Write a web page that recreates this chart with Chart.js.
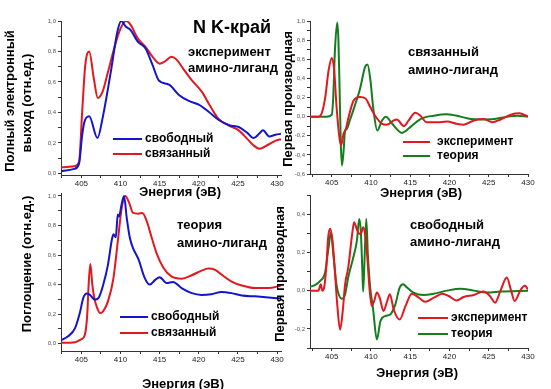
<!DOCTYPE html>
<html>
<head>
<meta charset="utf-8">
<script src="https://cdn.jsdelivr.net/npm/chart.js@4.4.0/dist/chart.umd.min.js"></script>
<style>
  html, body { margin: 0; padding: 0; background: #fff; }
  #wrap { position: relative; width: 551px; height: 389px; overflow: hidden; }
  #wrap canvas { position: absolute; left: 0; top: 0; }
</style>
</head>
<body>
<div id="wrap">
  <canvas id="c1" width="551" height="389"></canvas>
  <canvas id="c2" width="551" height="389"></canvas>
  <canvas id="c3" width="551" height="389"></canvas>
  <canvas id="c4" width="551" height="389"></canvas>
</div>
<script>
// top left: experiment, total electron yield
const tyFreeE = [402.4, 404.1, 404.7, 405.1, 405.4, 406.0, 407.06, 407.7, 408.76, 409.6, 410.1, 410.7, 411.3, 412.2, 413.2, 414.1, 414.9, 416.2, 417.5, 418.8, 420.0, 421.3, 422.6, 423.9, 425.1, 426.2, 427.0, 427.7, 428.2, 429.0, 429.8, 430.5];
const tyFreeI = [0.015, 0.03, 0.063, 0.25, 0.34, 0.375, 0.232, 0.36, 0.666, 0.93, 1.0, 0.962, 0.94, 0.864, 0.82, 0.71, 0.61, 0.583, 0.513, 0.474, 0.451, 0.403, 0.349, 0.316, 0.305, 0.266, 0.232, 0.26, 0.283, 0.243, 0.254, 0.26];
const tyBoundE = [402.4, 404.1, 404.7, 405.1, 405.5, 406.0, 406.6, 407.1, 407.7, 408.4, 409.3, 410.0, 410.7, 411.3, 412.2, 413.2, 414.1, 415.0, 415.7, 416.5, 417.1, 418.0, 419.1, 420.4, 421.4, 422.5, 423.8, 425.1, 426.1, 427.0, 427.8, 428.9, 429.9, 430.5];
const tyBoundI = [0.04, 0.048, 0.074, 0.40, 0.71, 0.80, 0.62, 0.495, 0.535, 0.666, 0.84, 0.95, 1.0, 0.975, 0.886, 0.83, 0.765, 0.72, 0.736, 0.765, 0.75, 0.688, 0.612, 0.535, 0.447, 0.36, 0.316, 0.283, 0.232, 0.184, 0.162, 0.19, 0.217, 0.225];

// top right: first derivative, bound ligand
const d1ExpE = [402.2, 403.3, 403.7, 404.15, 404.6, 405.0, 405.3, 405.6, 406.0, 406.2, 406.5, 406.8, 407.1, 407.8, 408.6, 409.3, 409.9, 410.5, 411.4, 412.0, 412.9, 413.3, 414.2, 414.8, 415.65, 416.3, 417.1, 418.4, 419.7, 420.9, 421.8, 423.1, 424.4, 425.45, 426.5, 427.8, 428.9, 430.0];
const d1ExpI = [0, 0, 0.03, 0.19, 0.485, 0.614, 0.5, 0.118, -0.233, -0.30, -0.18, -0.13, -0.02, 0.17, 0.205, 0.19, 0.10, 0.012, -0.075, -0.085, -0.04, -0.03, -0.1, -0.04, 0.04, 0.01, -0.06, -0.06, -0.052, -0.075, -0.085, -0.04, -0.025, -0.06, -0.03, 0.02, 0.035, 0.0];
const d1ThE = [402.2, 404.3, 405.0, 405.2, 405.4, 405.7, 405.85, 405.97, 406.15, 406.3, 406.5, 406.7, 406.9, 407.3, 407.95, 408.6, 409.25, 409.55, 409.9, 410.3, 410.8, 411.4, 411.9, 412.7, 413.95, 415.0, 416.3, 418.0, 419.7, 421.4, 422.7, 424.0, 425.7, 427.4, 428.7, 430.0];
const d1ThI = [0, 0, 0.02, 0.22, 0.68, 0.985, 0.8, 0.40, -0.27, -0.51, -0.37, -0.145, -0.13, -0.04, 0.118, 0.29, 0.52, 0.545, 0.40, 0.08, -0.145, -0.04, 0.0, -0.075, -0.17, -0.11, -0.025, 0.01, 0.025, 0.0, -0.025, -0.03, -0.025, 0.0, 0.01, 0.0];

// bottom left: theory, absorption
const absFreeE = [402.3, 403.3, 404.2, 404.8, 405.25, 405.7, 406.1, 406.7, 407.2, 407.8, 408.4, 408.9, 409.1, 409.4, 409.65, 409.8, 410.15, 410.45, 410.8, 411.2, 411.6, 412.3, 413.1, 413.75, 414.4, 415.0, 415.9, 416.7, 417.8, 419.1, 420.35, 421.6, 422.9, 424.2, 425.5, 427.2, 428.9, 430.5];
const absFreeI = [0.02, 0.05, 0.105, 0.207, 0.31, 0.34, 0.33, 0.298, 0.31, 0.40, 0.535, 0.705, 0.74, 0.72, 0.875, 0.86, 0.945, 1.0, 0.85, 0.715, 0.647, 0.57, 0.444, 0.40, 0.43, 0.449, 0.41, 0.418, 0.376, 0.342, 0.33, 0.335, 0.35, 0.342, 0.326, 0.32, 0.313, 0.305];
const absBoundE = [402.3, 404.2, 405.0, 405.45, 405.75, 405.95, 406.15, 406.4, 406.65, 406.95, 407.4, 407.8, 408.4, 409.1, 409.7, 410.15, 410.6, 411.1, 411.6, 412.3, 412.8, 413.35, 414.0, 414.6, 415.5, 416.5, 417.8, 419.1, 420.35, 421.2, 422.1, 422.9, 424.2, 425.5, 427.2, 428.9, 430.5];
const absBoundI = [0.005, 0.01, 0.03, 0.06, 0.195, 0.42, 0.54, 0.40, 0.31, 0.252, 0.207, 0.22, 0.286, 0.444, 0.715, 0.918, 1.0, 0.955, 0.885, 0.88, 0.885, 0.83, 0.715, 0.613, 0.512, 0.455, 0.44, 0.463, 0.494, 0.508, 0.50, 0.468, 0.42, 0.393, 0.376, 0.376, 0.393];

// bottom right: first derivative, free ligand
const d2ExpE = [402.2, 403.3, 403.6, 403.8, 404.0, 404.3, 404.55, 404.8, 405.1, 405.4, 405.7, 406.06, 406.4, 406.7, 407.1, 407.6, 407.85, 408.2, 408.5, 408.8, 409.0, 409.25, 409.5, 409.8, 410.1, 410.4, 410.75, 411.1, 411.6, 412.0, 412.4, 412.9, 413.65, 414.4, 415.2, 416.1, 416.9, 418.0, 419.1, 419.9, 420.9, 421.8, 423.1, 424.3, 425.15, 425.8, 426.5, 427.3, 427.8, 428.3, 429.1, 429.6, 430.0];
const d2ExpI = [0, 0, 0.033, 0, 0.01, 0.12, 0.28, 0.323, 0.26, 0.104, -0.072, -0.204, -0.107, 0.033, 0.12, 0.296, 0.357, 0.32, 0.296, 0.305, 0.332, 0.296, 0.19, 0.016, -0.08, -0.055, -0.01, -0.037, -0.107, -0.063, -0.019, -0.1, -0.151, -0.08, -0.016, -0.037, -0.058, -0.037, -0.016, -0.028, -0.051, -0.033, -0.023, -0.005, -0.028, -0.063, 0.0, 0.068, 0.007, -0.054, 0.007, 0.025, 0.007];
const d2ThE = [402.2, 402.9, 403.5, 404.15, 404.6, 404.9, 405.2, 405.6, 406.3, 406.7, 407.1, 407.75, 408.2, 408.5, 408.7, 408.9, 409.0, 409.2, 409.4, 409.6, 409.9, 410.25, 410.75, 411.2, 411.8, 412.45, 413.1, 413.65, 414.1, 414.6, 415.4, 416.7, 418.0, 419.7, 421.4, 423.1, 424.8, 426.5, 430.0];
const d2ThI = [0.019, 0.03, 0.05, 0.095, 0.226, 0.305, 0.19, 0.033, -0.042, -0.02, 0.07, 0.174, 0.26, 0.375, 0.313, 0.104, -0.005, 0.19, 0.375, 0.19, 0.016, -0.09, -0.256, -0.16, -0.133, -0.125, -0.072, 0.016, 0.033, 0.016, -0.01, -0.023, -0.016, 0.0, 0.01, 0.0, -0.01, -0.005, 0.0];

const xMajor = [405, 410, 415, 420, 425, 430];
const xAll = [402.5, 405, 407.5, 410, 412.5, 415, 417.5, 420, 422.5, 425, 427.5, 430];
const yMajor01 = [0, 0.2, 0.4, 0.6, 0.8, 1.0];
const yMajorD1 = [-0.6, -0.4, -0.2, 0, 0.2, 0.4, 0.6, 0.8, 1.0];
const yMajorD2 = [-0.2, 0, 0.2, 0.4];

const BLUE = "rgb(20,20,205)";
const RED = "rgb(225,25,30)";
const GREEN = "rgb(20,125,30)";
const FONT = "'Liberation Sans', Arial, sans-serif";

const pts = (xs, ys) => xs.map((x, i) => ({ x: x, y: ys[i] }));

// everything free-standing: titles, notes, keys
const textPlugin = (items, keys) => ({
  id: "texts",
  afterDraw(chart) {
    const ctx = chart.ctx;
    ctx.save();
    keys.forEach(k => {
      ctx.strokeStyle = k.color;
      ctx.lineWidth = 2;
      ctx.beginPath();
      ctx.moveTo(k.x1, k.y);
      ctx.lineTo(k.x2, k.y);
      ctx.stroke();
    });
    ctx.fillStyle = "#000";
    ctx.textBaseline = "middle";
    items.forEach(t => {
      ctx.save();
      ctx.font = "bold " + t.size + "px " + FONT;
      ctx.textAlign = t.align || "left";
      ctx.translate(t.x, t.y);
      if (t.rot) ctx.rotate(t.rot);
      ctx.fillText(t.text, 0, 0);
      ctx.restore();
    });
    ctx.restore();
  }
});

const comma = v => (Math.abs(v) < 1e-9 ? 0 : v).toFixed(1).replace(".", ",");

const makePanel = (id, box, xr, yr, yMajor, yStep, datasets, items, keys) => {
  const yW = 22, xH = 14;
  const yAll = [];
  for (let v = yr[0]; v <= yr[1] + 1e-9; v += 0.01) {
    const r = Math.round(v * 100) / 100;
    if (Math.abs(Math.round(r / yStep) * yStep - r) < 1e-6) yAll.push(r);
  }
  const isMajor = (list, v) => list.some(m => Math.abs(m - v) < 1e-6);

  new Chart(document.getElementById(id), {
    type: "line",
    data: { datasets: datasets },
    options: {
      responsive: false,
      animation: false,
      layout: {
        padding: {
          left: box.left - yW,
          top: box.top,
          right: 551 - box.right,
          bottom: 389 - box.bottom - xH,
        },
      },
      elements: { point: { radius: 0 }, line: { borderWidth: 2, tension: 0.4, cubicInterpolationMode: "monotone" } },
      plugins: { legend: { display: false }, tooltip: { enabled: false } },
      scales: {
        x: {
          type: "linear",
          min: xr[0],
          max: xr[1],
          border: { color: "#333", width: 1 },
          grid: { drawOnChartArea: false, tickLength: 3, color: "#333" },
          ticks: {
            font: { family: FONT, size: 8 },
            color: "#222",
            padding: 1,
            maxRotation: 0,
            autoSkip: false,
            callback: v => (isMajor(xMajor, v) ? String(v) : ""),
          },
          afterBuildTicks: s => { s.ticks = xAll.filter(v => v >= xr[0] && v <= xr[1]).map(v => ({ value: v })); },
          afterFit: s => { s.height = xH; },
        },
        y: {
          type: "linear",
          min: yr[0],
          max: yr[1],
          border: { color: "#333", width: 1 },
          grid: { drawOnChartArea: false, tickLength: 3, color: "#333" },
          ticks: {
            font: { family: FONT, size: 6 },
            color: "#555",
            padding: 2,
            autoSkip: false,
            callback: v => (isMajor(yMajor, v) ? comma(v) : ""),
          },
          afterBuildTicks: s => { s.ticks = yAll.map(v => ({ value: v })); },
          afterFit: s => { s.width = yW; },
        },
      },
    },
    plugins: [textPlugin(items, keys)],
  });
};

const line = (xs, ys, color) => ({ data: pts(xs, ys), borderColor: color, backgroundColor: color, fill: false });
const R = -Math.PI / 2;

makePanel("c1", { left: 61, top: 21, right: 281, bottom: 175 }, [402.4, 430.5], [-0.01, 1.0], yMajor01, 0.1,
  [line(tyFreeE, tyFreeI, BLUE), line(tyBoundE, tyBoundI, RED)],
  [
    { text: "N K-край", x: 193, y: 28, size: 18 },
    { text: "эксперимент", x: 188, y: 52, size: 13 },
    { text: "амино-лиганд", x: 188, y: 68, size: 13 },
    { text: "свободный", x: 145, y: 139, size: 12 },
    { text: "связанный", x: 145, y: 154, size: 12 },
    { text: "Энергия (эВ)", x: 180, y: 192, size: 13, align: "center" },
    { text: "Полный электронный", x: 10, y: 101, size: 13, align: "center", rot: R },
    { text: "выход (отн.ед.)", x: 27, y: 103, size: 13, align: "center", rot: R },
  ],
  [{ color: BLUE, x1: 113, x2: 142, y: 139 }, { color: RED, x1: 113, x2: 142, y: 154 }]);

makePanel("c2", { left: 310, top: 21, right: 528, bottom: 174 }, [402.23, 430], [-0.6, 1.0], yMajorD1, 0.1,
  [line(d1ExpE, d1ExpI, RED), line(d1ThE, d1ThI, GREEN)],
  [
    { text: "связанный", x: 408, y: 52, size: 13 },
    { text: "амино-лиганд", x: 408, y: 70, size: 13 },
    { text: "эксперимент", x: 437, y: 142, size: 12 },
    { text: "теория", x: 437, y: 156, size: 12 },
    { text: "Энергия (эВ)", x: 421, y: 193, size: 13, align: "center" },
    { text: "Первая производная", x: 288, y: 99, size: 13, align: "center", rot: R },
  ],
  [{ color: RED, x1: 403, x2: 430, y: 142 }, { color: GREEN, x1: 403, x2: 430, y: 156 }]);

makePanel("c3", { left: 61, top: 193, right: 281, bottom: 351 }, [402.4, 430.5], [-0.05, 1.02], yMajor01, 0.1,
  [line(absFreeE, absFreeI, BLUE), line(absBoundE, absBoundI, RED)],
  [
    { text: "теория", x: 177, y: 225, size: 13 },
    { text: "амино-лиганд", x: 177, y: 243, size: 13 },
    { text: "свободный", x: 151, y: 317, size: 12 },
    { text: "связанный", x: 151, y: 333, size: 12 },
    { text: "Энергия (эВ)", x: 183, y: 384, size: 13, align: "center" },
    { text: "Поглощение (отн.ед.)", x: 27, y: 264, size: 13, align: "center", rot: R },
  ],
  [{ color: BLUE, x1: 120, x2: 148, y: 317 }, { color: RED, x1: 120, x2: 148, y: 333 }]);

makePanel("c4", { left: 310, top: 195, right: 528, bottom: 348 }, [402.23, 430], [-0.3, 0.5], yMajorD2, 0.1,
  [line(d2ExpE, d2ExpI, RED), line(d2ThE, d2ThI, GREEN)],
  [
    { text: "свободный", x: 410, y: 225, size: 13 },
    { text: "амино-лиганд", x: 410, y: 242, size: 13 },
    { text: "эксперимент", x: 451, y: 318, size: 12 },
    { text: "теория", x: 451, y: 334, size: 12 },
    { text: "Энергия (эВ)", x: 417, y: 373, size: 13, align: "center" },
    { text: "Первая производная", x: 280, y: 274, size: 13, align: "center", rot: R },
  ],
  [{ color: RED, x1: 418, x2: 448, y: 318 }, { color: GREEN, x1: 418, x2: 448, y: 334 }]);
</script>
</body>
</html>
